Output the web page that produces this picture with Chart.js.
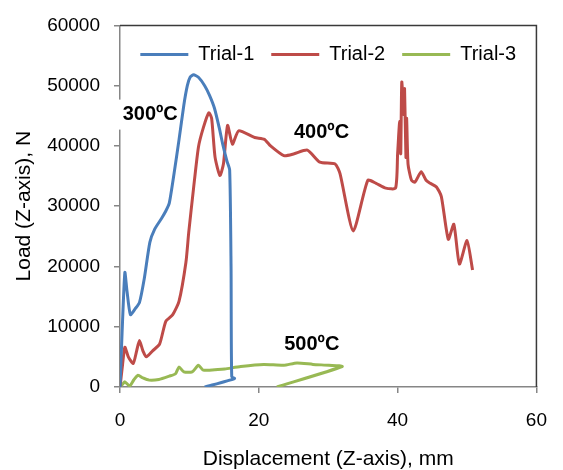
<!DOCTYPE html>
<html><head><meta charset="utf-8">
<script src="https://cdn.jsdelivr.net/npm/chart.js@4"></script>
<style>html,body{margin:0;padding:0;background:#fff}#wrap{width:563px;height:470px}</style>
</head><body><div id="wrap"><canvas id="c" width="563" height="470"></canvas></div>
<script>
const seriesNames = ['Trial-1', 'Trial-2', 'Trial-3'];

const trial1X = [0, 0.3, 0.7, 1.0, 1.5, 2.2, 2.8, 3.5, 4.3, 5.0, 6.0, 6.6, 7.1, 7.8, 8.5, 9.2, 9.7, 10.1, 10.6, 11.3, 12.2, 12.9, 13.6, 14.3, 14.8, 15.4, 15.8, 16.0, 16.1, 16.5, 12.2];
const trial1Y = [0, 9000, 19000, 16000, 12000, 13000, 14000, 18000, 24000, 26200, 28000, 29200, 30500, 35500, 41000, 46800, 50000, 51400, 51800, 51400, 50000, 48400, 46300, 43000, 40300, 37500, 36000, 20000, 1700, 1400, 0];

const trial2X = [0, 0.3, 0.7, 1.2, 1.9, 2.4, 2.8, 3.3, 3.8, 4.7, 5.7, 6.6, 7.6, 8.5, 9.5, 9.9, 10.6, 11.3, 12.0, 12.8, 13.2, 13.7, 14.4, 14.9, 15.5, 16.2, 17.1, 19.4, 20.8, 21.7, 23.6, 25.1, 27.0, 28.8, 31.0, 31.7, 33.6, 35.7, 36.9, 38.3, 39.7, 40.0, 40.3, 40.45, 40.6, 40.9, 41.0, 41.2, 41.3, 41.5, 42.0, 42.5, 43.4, 44.1, 44.7, 45.6, 46.3, 47.3, 48.1, 48.9, 50.0, 50.8];
const trial2Y = [0, 3000, 6600, 5000, 3900, 6000, 7700, 6000, 5000, 6000, 7100, 10900, 12000, 14200, 20700, 25600, 33000, 39800, 43000, 45500, 44600, 38100, 35100, 37000, 43400, 40300, 42500, 41400, 41100, 40000, 38400, 38700, 39300, 37300, 37000, 35400, 25900, 34300, 33800, 33000, 33000, 38700, 44100, 38700, 50600, 45200, 49500, 38100, 44600, 37000, 34300, 34000, 35700, 34300, 33800, 33200, 31600, 24500, 27000, 20400, 24300, 19400];

const trial3X = [0, 0.4, 0.7, 1.4, 2.0, 2.6, 3.3, 4.2, 5.6, 7.1, 8.0, 8.5, 9.2, 10.4, 11.3, 12.0, 14.1, 15.1, 17.4, 20.7, 23.6, 25.5, 27.8, 30.1, 32.0, 22.6];
const trial3Y = [0, 500, 860, 160, 1200, 1950, 1500, 1140, 1250, 1800, 2200, 3300, 2500, 2500, 3600, 2800, 2900, 3000, 3400, 3750, 3600, 4000, 3750, 3600, 3400, 0];

const xTicks = [0, 20, 40, 60];
const yTicks = [0, 10000, 20000, 30000, 40000, 50000, 60000];
const annotationTexts = ['300ºC', '400ºC', '500ºC'];

const FONT = '"Liberation Sans", Arial, sans-serif';
const toPoints = (xs, ys) => xs.map((x, i) => ({x, y: ys[i]}));

const framePlugin = {
  id: 'frame',
  afterInit(chart) {
    if (chart.legend) chart.legend.isHorizontal = () => true;
  },
  afterLayout(chart, args, opts) {
    if (chart.legend) {
      const lg = chart.legend;
      const a = chart.chartArea;
      const h = lg.bottom - lg.top;
      lg.left = a.left;
      lg.right = a.right;
      lg.width = a.right - a.left;
      lg.top = a.top + opts.legendShift;
      lg.bottom = lg.top + h;
    }
  },
  afterDraw(chart, args, opts) {
    const {ctx, chartArea: a, scales} = chart;
    ctx.save();
    ctx.strokeStyle = '#3a3a3a';
    ctx.lineWidth = 1.5;
    ctx.beginPath();
    ctx.moveTo(a.left, a.top);
    ctx.lineTo(a.right, a.top);
    ctx.lineTo(a.right, a.bottom);
    ctx.stroke();
    ctx.font = 'bold 20px ' + FONT;
    ctx.textBaseline = 'middle';
    ctx.textAlign = 'left';
    opts.labels.forEach(l => {
      const px = scales.x.getPixelForValue(l.x);
      const py = scales.y.getPixelForValue(l.y);
      const w = ctx.measureText(l.text).width;
      if (l.bg) { ctx.fillStyle = '#fff'; ctx.fillRect(px - 6, py - 15, w + 7, 30); }
      ctx.fillStyle = '#000';
      ctx.fillText(l.text, px, py);
    });
    ctx.restore();
  }
};

const colors = ['#4A7EBB', '#BE4B48', '#98B954'];
const series = [toPoints(trial1X, trial1Y), toPoints(trial2X, trial2Y), toPoints(trial3X, trial3Y)];

new Chart(document.getElementById('c'), {
  type: 'scatter',
  data: {
    datasets: series.map((d, i) => ({
      label: seriesNames[i],
      data: d,
      showLine: true,
      borderColor: colors[i],
      backgroundColor: colors[i],
      borderWidth: 3,
      pointRadius: 0,
      pointHoverRadius: 0,
      tension: 0.2,
      pointStyle: 'line'
    }))
  },
  options: {
    responsive: false,
    animation: false,
    devicePixelRatio: 1,
    layout: {padding: {left: 0, right: 17, top: 19, bottom: 0}},
    plugins: {
      tooltip: {enabled: false},
      legend: {
        position: 'chartArea',
        align: 'center',
        labels: {
          usePointStyle: true,
          pointStyle: 'line',
          pointStyleWidth: 48,
          color: '#000',
          padding: 17,
          font: {size: 20, family: FONT}
        }
      },
      frame: {
        legendShift: 2,
        labels: [
          {text: annotationTexts[0], x: 0.38, y: 45200, bg: true},
          {text: annotationTexts[1], x: 25.07, y: 42230},
          {text: annotationTexts[2], x: 23.66, y: 7010}
        ]
      }
    },
    scales: {
      x: {
        type: 'linear', min: 0, max: 60,
        afterBuildTicks: s => { s.ticks = xTicks.map(v => ({value: v})); },
        border: {color: '#868686', width: 1.5},
        grid: {drawOnChartArea: false, tickLength: 6, color: '#868686', lineWidth: 1.5},
        ticks: {font: {size: 19, family: FONT}, color: '#000', padding: 16, maxRotation: 0, autoSkip: false},
        title: {display: true, text: 'Displacement (Z-axis), mm', color: '#000', font: {size: 21, family: FONT, lineHeight: 1}, padding: 0},
        afterFit: s => { s.height = 83; }
      },
      y: {
        type: 'linear', min: 0, max: 60000,
        afterBuildTicks: s => { s.ticks = yTicks.map(v => ({value: v})); },
        border: {color: '#868686', width: 1.5},
        grid: {drawOnChartArea: false, tickLength: 6, color: '#868686', lineWidth: 1.5},
        ticks: {font: {size: 19, family: FONT}, color: '#000', padding: 14, autoSkip: false, callback: v => String(v)},
        title: {display: true, text: 'Load (Z-axis), N', color: '#000', font: {size: 21, family: FONT}, padding: {top: 12, bottom: 0}},
        afterFit: s => { s.width = 120; }
      }
    }
  },
  plugins: [framePlugin]
});
</script></body></html>
